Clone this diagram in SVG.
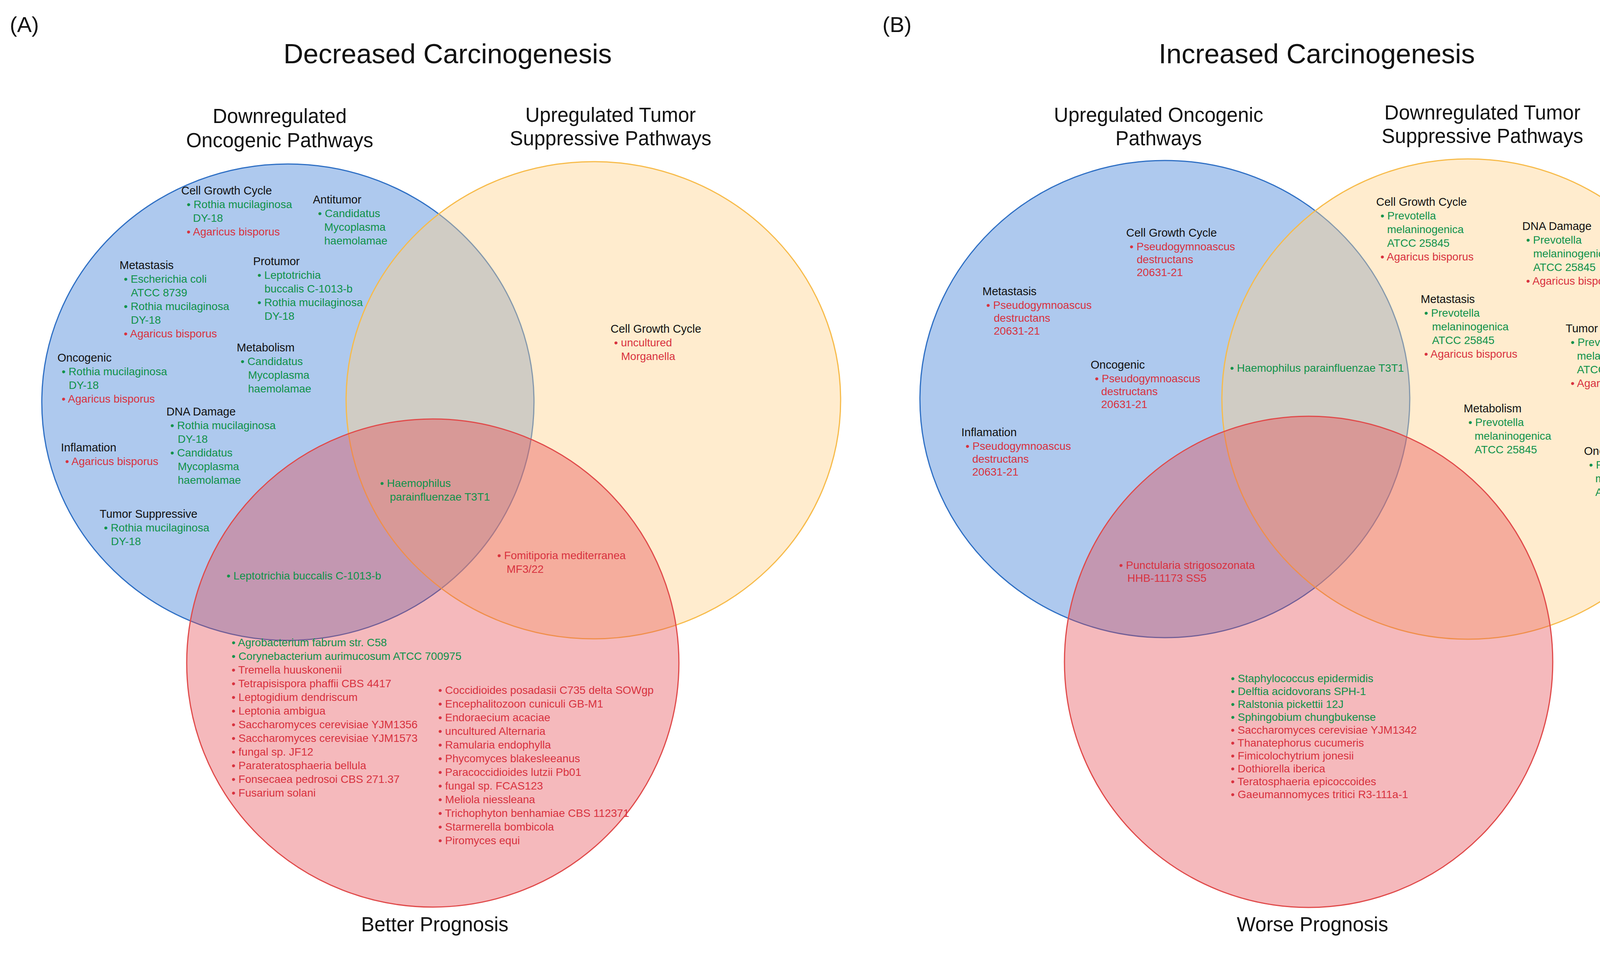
<svg xmlns="http://www.w3.org/2000/svg" width="4627" height="2456" viewBox="0 0 4627 2456">
<style>
text{font-family:"Liberation Sans",Arial,sans-serif}
.h{font-size:29px;fill:#111}
.g{font-size:28px;fill:#10924a}
.r{font-size:28px;fill:#d8323f}
.big{font-size:51px;fill:#111;text-anchor:middle}
.title{font-size:70px;fill:#111;text-anchor:middle}
.lab{font-size:56px;fill:#111}
.blue{fill:#4f8ad9;fill-opacity:0.46;stroke:#2e6fc4;stroke-width:3}
.orange{fill:#ffd18a;fill-opacity:0.42;stroke:#f7bb4a;stroke-width:3}
.red{fill:#e5474f;fill-opacity:0.38;stroke:#e04a4a;stroke-width:3}
</style>
<rect width="4627" height="2456" fill="#fff"/>
<g id="circlesA">
<ellipse class="blue" cx="737" cy="1030" rx="630" ry="610"/>
<ellipse class="orange" cx="1519" cy="1025" rx="633" ry="611"/>
<ellipse class="red" cx="1108" cy="1698" rx="630" ry="625"/>
</g>
<g id="circlesB">
<ellipse class="blue" cx="2982" cy="1022" rx="627" ry="611"/>
<ellipse class="orange" cx="3758" cy="1022" rx="630" ry="615"/>
<ellipse class="red" cx="3350" cy="1695" rx="625" ry="629"/>
</g>
<g id="connectors"></g>
<g id="labelsA">
<text class="lab" x="25" y="82">(A)</text>
<text class="title" x="1146" y="162">Decreased Carcinogenesis</text>
<text class="big" x="716" y="315">Downregulated</text>
<text class="big" x="716" y="377">Oncogenic Pathways</text>
<text class="big" x="1563" y="312">Upregulated Tumor</text>
<text class="big" x="1563" y="372">Suppressive Pathways</text>
<text class="big" x="1113" y="2385">Better Prognosis</text>
</g>
<g id="A-cellgrowth">
<text class="h" x="464" y="498">Cell Growth Cycle</text>
<text class="g" x="478" y="533">• Rothia mucilaginosa</text>
<text class="g" x="494" y="568">DY-18</text>
<text class="r" x="478" y="603">• Agaricus bisporus</text>
</g>
<g id="A-antitumor">
<text class="h" x="801" y="521">Antitumor</text>
<text class="g" x="814" y="556">• Candidatus</text>
<text class="g" x="830" y="591">Mycoplasma</text>
<text class="g" x="830" y="626">haemolamae</text>
</g>
<g id="A-metastasis">
<text class="h" x="306" y="689">Metastasis</text>
<text class="g" x="317" y="724">• Escherichia coli</text>
<text class="g" x="335" y="759">ATCC   8739</text>
<text class="g" x="317" y="794">• Rothia mucilaginosa</text>
<text class="g" x="335" y="829">DY-18</text>
<text class="r" x="317" y="864">• Agaricus bisporus</text>
</g>
<g id="A-protumor">
<text class="h" x="648" y="679">Protumor</text>
<text class="g" x="659" y="714">• Leptotrichia</text>
<text class="g" x="677" y="749">buccalis   C-1013-b</text>
<text class="g" x="659" y="784">• Rothia mucilaginosa</text>
<text class="g" x="677" y="819">DY-18</text>
</g>
<g id="A-oncogenic">
<text class="h" x="147" y="926">Oncogenic</text>
<text class="g" x="158" y="961">• Rothia mucilaginosa</text>
<text class="g" x="176" y="996">DY-18</text>
<text class="r" x="158" y="1031">• Agaricus bisporus</text>
</g>
<g id="A-metabolism">
<text class="h" x="606" y="900">Metabolism</text>
<text class="g" x="616" y="935">• Candidatus</text>
<text class="g" x="635" y="970">Mycoplasma</text>
<text class="g" x="635" y="1005">haemolamae</text>
</g>
<g id="A-dna">
<text class="h" x="426" y="1064">DNA Damage</text>
<text class="g" x="436" y="1099">• Rothia mucilaginosa</text>
<text class="g" x="455" y="1134">DY-18</text>
<text class="g" x="436" y="1169">• Candidatus</text>
<text class="g" x="455" y="1204">Mycoplasma</text>
<text class="g" x="455" y="1239">haemolamae</text>
</g>
<g id="A-inflamation">
<text class="h" x="156" y="1156">Inflamation</text>
<text class="r" x="167" y="1191">• Agaricus bisporus</text>
</g>
<g id="A-tumorsupp">
<text class="h" x="255" y="1326">Tumor Suppressive</text>
<text class="g" x="266" y="1361">• Rothia mucilaginosa</text>
<text class="g" x="284" y="1396">DY-18</text>
</g>
<g id="A-orange-cell">
<text class="h" x="1563" y="852">Cell Growth Cycle</text>
<text class="r" x="1572" y="887">• uncultured</text>
<text class="r" x="1590" y="922">Morganella</text>
</g>
<g id="A-center">
<text class="g" x="973" y="1247">•  Haemophilus</text>
<text class="g" x="998" y="1282">parainfluenzae T3T1</text>
</g>
<g id="A-bluered">
<text class="g" x="580" y="1484">•  Leptotrichia buccalis C-1013-b</text>
</g>
<g id="A-orangered">
<text class="r" x="1273" y="1432">•  Fomitiporia mediterranea</text>
<text class="r" x="1297" y="1467">MF3/22</text>
</g>
<g id="A-red">
<text class="g" x="593" y="1655">• Agrobacterium fabrum   str. C58</text>
<text class="g" x="593" y="1690">• Corynebacterium aurimucosum ATCC 700975</text>
<text class="r" x="593" y="1725">• Tremella huuskonenii</text>
<text class="r" x="593" y="1760">• Tetrapisispora phaffii CBS 4417</text>
<text class="r" x="593" y="1795">• Leptogidium dendriscum</text>
<text class="r" x="593" y="1830">• Leptonia ambigua</text>
<text class="r" x="593" y="1865">• Saccharomyces cerevisiae YJM1356</text>
<text class="r" x="593" y="1900">• Saccharomyces cerevisiae YJM1573</text>
<text class="r" x="593" y="1935">• fungal sp. JF12</text>
<text class="r" x="593" y="1970">• Parateratosphaeria bellula</text>
<text class="r" x="593" y="2005">• Fonsecaea pedrosoi CBS 271.37</text>
<text class="r" x="593" y="2040">• Fusarium solani</text>
<text class="r" x="1122" y="1777">• Coccidioides posadasii C735 delta SOWgp</text>
<text class="r" x="1122" y="1812">• Encephalitozoon cuniculi GB-M1</text>
<text class="r" x="1122" y="1847">• Endoraecium acaciae</text>
<text class="r" x="1122" y="1882">• uncultured Alternaria</text>
<text class="r" x="1122" y="1917">• Ramularia endophylla</text>
<text class="r" x="1122" y="1952">• Phycomyces blakesleeanus</text>
<text class="r" x="1122" y="1987">• Paracoccidioides lutzii Pb01</text>
<text class="r" x="1122" y="2022">• fungal sp. FCAS123</text>
<text class="r" x="1122" y="2057">• Meliola niessleana</text>
<text class="r" x="1122" y="2092">• Trichophyton benhamiae CBS 112371</text>
<text class="r" x="1122" y="2127">• Starmerella bombicola</text>
<text class="r" x="1122" y="2162">• Piromyces equi</text>
</g>
<g id="labelsB">
<text class="lab" x="2259" y="82">(B)</text>
<text class="title" x="3371" y="162">Increased Carcinogenesis</text>
<text class="big" x="2966" y="312">Upregulated Oncogenic</text>
<text class="big" x="2966" y="372">Pathways</text>
<text class="big" x="3795" y="306">Downregulated Tumor</text>
<text class="big" x="3795" y="366">Suppressive Pathways</text>
<text class="big" x="3360" y="2385">Worse Prognosis</text>
</g>
<g id="B-cellgrowth">
<text class="h" x="2883" y="606">Cell Growth Cycle</text>
<text class="r" x="2892" y="641">• Pseudogymnoascus</text>
<text class="r" x="2910" y="674">destructans</text>
<text class="r" x="2910" y="707">20631-21</text>
</g>
<g id="B-metastasis">
<text class="h" x="2515" y="756">Metastasis</text>
<text class="r" x="2525" y="791">• Pseudogymnoascus</text>
<text class="r" x="2544" y="824">destructans</text>
<text class="r" x="2544" y="857">20631-21</text>
</g>
<g id="B-oncogenic">
<text class="h" x="2792" y="944">Oncogenic</text>
<text class="r" x="2803" y="979">• Pseudogymnoascus</text>
<text class="r" x="2819" y="1012">destructans</text>
<text class="r" x="2819" y="1045">20631-21</text>
</g>
<g id="B-inflamation">
<text class="h" x="2461" y="1117">Inflamation</text>
<text class="r" x="2472" y="1152">• Pseudogymnoascus</text>
<text class="r" x="2489" y="1185">destructans</text>
<text class="r" x="2489" y="1218">20631-21</text>
</g>
<g id="B-center">
<text class="g" x="3149" y="952">• Haemophilus parainfluenzae T3T1</text>
</g>
<g id="B-orange-cell">
<text class="h" x="3523" y="527">Cell Growth Cycle</text>
<text class="g" x="3534" y="562">• Prevotella</text>
<text class="g" x="3551" y="597">melaninogenica</text>
<text class="g" x="3551" y="632">ATCC 25845</text>
<text class="r" x="3534" y="667">• Agaricus bisporus</text>
</g>
<g id="B-dna">
<text class="h" x="3897" y="589">DNA Damage</text>
<text class="g" x="3907" y="624">• Prevotella</text>
<text class="g" x="3925" y="659">melaninogenica</text>
<text class="g" x="3925" y="694">ATCC 25845</text>
<text class="r" x="3907" y="729">• Agaricus bisporus</text>
</g>
<g id="B-metastasis2">
<text class="h" x="3637" y="776">Metastasis</text>
<text class="g" x="3646" y="811">• Prevotella</text>
<text class="g" x="3666" y="846">melaninogenica</text>
<text class="g" x="3666" y="881">ATCC 25845</text>
<text class="r" x="3646" y="916">• Agaricus bisporus</text>
</g>
<g id="B-tumorsupp">
<text class="h" x="4008" y="851">Tumor Suppressive</text>
<text class="g" x="4021" y="886">• Prevotella</text>
<text class="g" x="4037" y="921">melaninogenica</text>
<text class="g" x="4037" y="956">ATCC 25845</text>
<text class="r" x="4021" y="991">• Agaricus bisporus</text>
</g>
<g id="B-metabolism">
<text class="h" x="3747" y="1056">Metabolism</text>
<text class="g" x="3759" y="1091">• Prevotella</text>
<text class="g" x="3775" y="1126">melaninogenica</text>
<text class="g" x="3775" y="1161">ATCC 25845</text>
</g>
<g id="B-oncogenic2">
<text class="h" x="4055" y="1165">Oncogenic</text>
<text class="g" x="4068" y="1200">• Prevotella</text>
<text class="g" x="4084" y="1235">melaninogenica</text>
<text class="g" x="4084" y="1270">ATCC 25845</text>
</g>
<g id="B-bluered">
<text class="r" x="2865" y="1457">•  Punctularia strigosozonata</text>
<text class="r" x="2886" y="1490">HHB-11173 SS5</text>
</g>
<g id="B-red">
<text class="g" x="3151" y="1747">• Staphylococcus epidermidis</text>
<text class="g" x="3151" y="1780">• Delftia acidovorans SPH-1</text>
<text class="g" x="3151" y="1813">• Ralstonia pickettii 12J</text>
<text class="g" x="3151" y="1846">• Sphingobium chungbukense</text>
<text class="r" x="3151" y="1879">• Saccharomyces cerevisiae YJM1342</text>
<text class="r" x="3151" y="1912">• Thanatephorus cucumeris</text>
<text class="r" x="3151" y="1945">• Fimicolochytrium jonesii</text>
<text class="r" x="3151" y="1978">• Dothiorella iberica</text>
<text class="r" x="3151" y="2011">• Teratosphaeria epicoccoides</text>
<text class="r" x="3151" y="2044">• Gaeumannomyces tritici R3-111a-1</text>
</g>
<g id="legend">
<text x="4600" y="2352" text-anchor="end" style="font-size:54px;fill:#10924a">Bacterial Microbe</text>
<text x="4600" y="2417" text-anchor="end" style="font-size:54px;fill:#d8323f">Fungal Microbe</text>
</g>
</svg>
